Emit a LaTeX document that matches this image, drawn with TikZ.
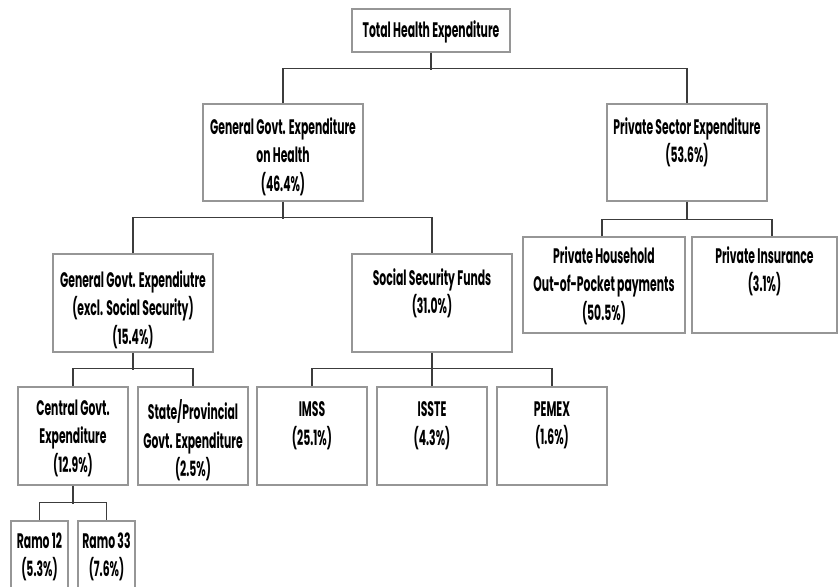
\documentclass[tikz,border=0pt]{standalone}
\usepackage{fontspec}
\setmainfont{Poppins}[FakeStretch=0.515]
\usetikzlibrary{calc}
\definecolor{boxgray}{RGB}{150,150,150}
\definecolor{linegray}{RGB}{60,60,60}
\newcommand\boxat[5]{\node[box, minimum width=#4pt, minimum height=#5pt] (#1) at (#2,#3) {};}
\begin{document}
\begin{tikzpicture}[x=1pt,y=-1pt,
  box/.style={draw=boxgray, line width=1.3pt, rectangle, inner sep=0pt, fill=white},
  lbl/.style={anchor=north, inner sep=0pt, align=center, font=\fontsize{21}{28.5}\selectfont\bfseries},
  conn/.style={draw=linegray, line width=1.4pt}]
\useasboundingbox (0,0) rectangle (839,587);
\clip (0,0) rectangle (839,587);
\fill[white] (0,0) rectangle (839,587);
% boxes
\boxat{tot}{431}{30.5}{158}{43}
\boxat{gg}{283}{152.5}{160}{97}
\boxat{ps}{687}{152.5}{160}{97}
\boxat{ge}{133}{303}{160}{98}
\boxat{ss}{432}{303}{160}{98}
\boxat{ph}{604}{285}{162}{96}
\boxat{pi}{764.5}{285}{145}{96}
\boxat{cg}{73}{436}{110}{98}
\boxat{sp}{193}{436}{110}{98}
\boxat{imss}{312}{436}{110}{98}
\boxat{isste}{432}{436}{110}{98}
\boxat{pemex}{552}{436}{110}{98}
\boxat{rtw}{39.5}{560.5}{57}{79}
\boxat{rtt}{106.5}{560.5}{57}{79}
% labels
\node[lbl] (tot-l) at ($(tot.north)+(0,12)$) {Total Health Expenditure};
\node[lbl] (gg-l) at ($(gg.north)+(0,14)$) {General Govt. Expenditure\\on Health\\(46.4\%)};
\node[lbl] (ps-l) at ($(ps.north)+(0,14)$) {Private Sector Expenditure\\(53.6\%)};
\node[lbl] (ge-l) at ($(ge.north)+(0,17)$) {General Govt. Expendiutre\\(excl. Social Security)\\(15.4\%)};
\node[lbl] (ss-l) at ($(ss.north)+(0,15)$) {Social Security Funds\\(31.0\%)};
\node[lbl] (ph-l) at ($(ph.north)+(0,10)$) {Private Household\\Out-of-Pocket payments\\(50.5\%)};
\node[lbl] (pi-l) at ($(pi.north)+(0,10)$) {Private Insurance\\(3.1\%)};
\node[lbl] (cg-l) at ($(cg.north)+(0,13)$) {Central Govt.\\Expenditure\\(12.9\%)};
\node[lbl] (sp-l) at ($(sp.north)+(0,13)$) {State/Provincial\\Govt. Expenditure\\(2.5\%)};
\node[lbl] (imss-l) at ($(imss.north)+(0,15)$) {IMSS\\(25.1\%)};
\node[lbl] (isste-l) at ($(isste.north)+(0,15)$) {ISSTE\\(4.3\%)};
\node[lbl] (pemex-l) at ($(pemex.north)+(0,15)$) {PEMEX\\(1.6\%)};
\node[lbl] (rtw-l) at ($(rtw.north)+(0,12)$) {Ramo 12\\(5.3\%)};
\node[lbl] (rtt-l) at ($(rtt.north)+(0,12)$) {Ramo 33\\(7.6\%)};
% connectors
\draw[conn] (tot.south) -- ++(0,17);
\draw[conn] (gg.north) -- ++(0,-35) -| (ps.north);
\draw[conn] (gg.south) -- ++(0,17);
\draw[conn] (ge.north) -- ++(0,-36) -| (ss.north);
\draw[conn] (ps.south) -- ++(0,18);
\draw[conn] ([xshift=-2pt]ph.north) -- ++(0,-17) -| ([xshift=7.5pt]pi.north);
\draw[conn] (ge.south) -- ++(0,17);
\draw[conn] (cg.north) -- ++(0,-18) -| (sp.north);
\draw[conn] (ss.south) -- ++(0,17);
\draw[conn] (imss.north) -- ++(0,-18) -| (pemex.north);
\draw[conn] (ss.south |- imss.north) -- ++(0,-18);
\draw[conn] (cg.south) -- ++(0,18);
\draw[conn] (rtw.north) -- ++(0,-18) -| (rtt.north);
\end{tikzpicture}
\end{document}
